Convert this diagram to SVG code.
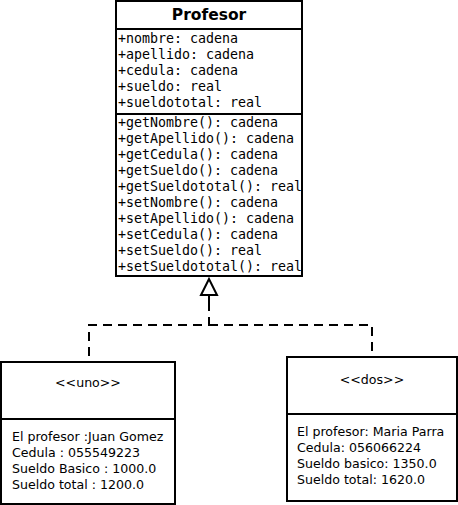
<svg xmlns="http://www.w3.org/2000/svg" width="458" height="505" viewBox="0 0 458 505">
<defs>
<style>
.box{fill:#fff;stroke:#000;stroke-width:2}
.div{stroke:#000;stroke-width:2}
.mono{font-family:"DejaVu Sans Mono",monospace;font-size:13.3px;fill:#000}
.sans{font-family:"DejaVu Sans",sans-serif;font-size:12.6px;fill:#000}
.title{font-family:"DejaVu Sans",sans-serif;font-size:15.5px;font-weight:bold;fill:#000}
.dash{fill:none;stroke:#000;stroke-width:2;stroke-dasharray:9,6}
</style>
</defs>
<rect width="458" height="505" fill="#fff"/>
<g id="connectors">
<path class="dash" d="M209,302 V325 H89 V362"/>
<path class="dash" d="M209,325 H372 V356"/>
<line x1="209" y1="295" x2="209" y2="303" stroke="#000" stroke-width="2"/>
<polygon points="209,279 201,295 217,295" fill="#fff" stroke="#000" stroke-width="2"/>
</g>
<g id="Profesor">
<rect class="box" x="116" y="1" width="186" height="275"/>
<line class="div" x1="116" y1="29" x2="302" y2="29"/>
<line class="div" x1="116" y1="114" x2="302" y2="114"/>
<text class="title" x="209" y="20" text-anchor="middle">Profesor</text>
<text class="mono">
<tspan x="118" y="43">+nombre: cadena</tspan>
<tspan x="118" y="59">+apellido: cadena</tspan>
<tspan x="118" y="75">+cedula: cadena</tspan>
<tspan x="118" y="91">+sueldo: real</tspan>
<tspan x="118" y="107">+sueldototal: real</tspan>
</text>
<text class="mono">
<tspan x="118" y="127">+getNombre(): cadena</tspan>
<tspan x="118" y="143">+getApellido(): cadena</tspan>
<tspan x="118" y="159">+getCedula(): cadena</tspan>
<tspan x="118" y="175">+getSueldo(): cadena</tspan>
<tspan x="118" y="191">+getSueldototal(): real</tspan>
<tspan x="118" y="207">+setNombre(): cadena</tspan>
<tspan x="118" y="223">+setApellido(): cadena</tspan>
<tspan x="118" y="239">+setCedula(): cadena</tspan>
<tspan x="118" y="255">+setSueldo(): real</tspan>
<tspan x="118" y="271">+setSueldototal(): real</tspan>
</text>
</g>
<g id="uno">
<rect class="box" x="1" y="362" width="174" height="142"/>
<line class="div" x1="1" y1="419" x2="175" y2="419"/>
<text class="sans" x="88" y="387" text-anchor="middle">&lt;&lt;uno&gt;&gt;</text>
<text class="sans">
<tspan x="12" y="441">El profesor :Juan Gomez</tspan>
<tspan x="12" y="457">Cedula : 055549223</tspan>
<tspan x="12" y="473">Sueldo Basico : 1000.0</tspan>
<tspan x="12" y="489">Sueldo total : 1200.0</tspan>
</text>
</g>
<g id="dos">
<rect class="box" x="287" y="357" width="170" height="144"/>
<line class="div" x1="287" y1="414" x2="457" y2="414"/>
<text class="sans" x="372" y="384" text-anchor="middle">&lt;&lt;dos&gt;&gt;</text>
<text class="sans">
<tspan x="297" y="436">El profesor: Maria Parra</tspan>
<tspan x="297" y="452">Cedula: 056066224</tspan>
<tspan x="297" y="468">Sueldo basico: 1350.0</tspan>
<tspan x="297" y="484">Sueldo total: 1620.0</tspan>
</text>
</g>
</svg>
